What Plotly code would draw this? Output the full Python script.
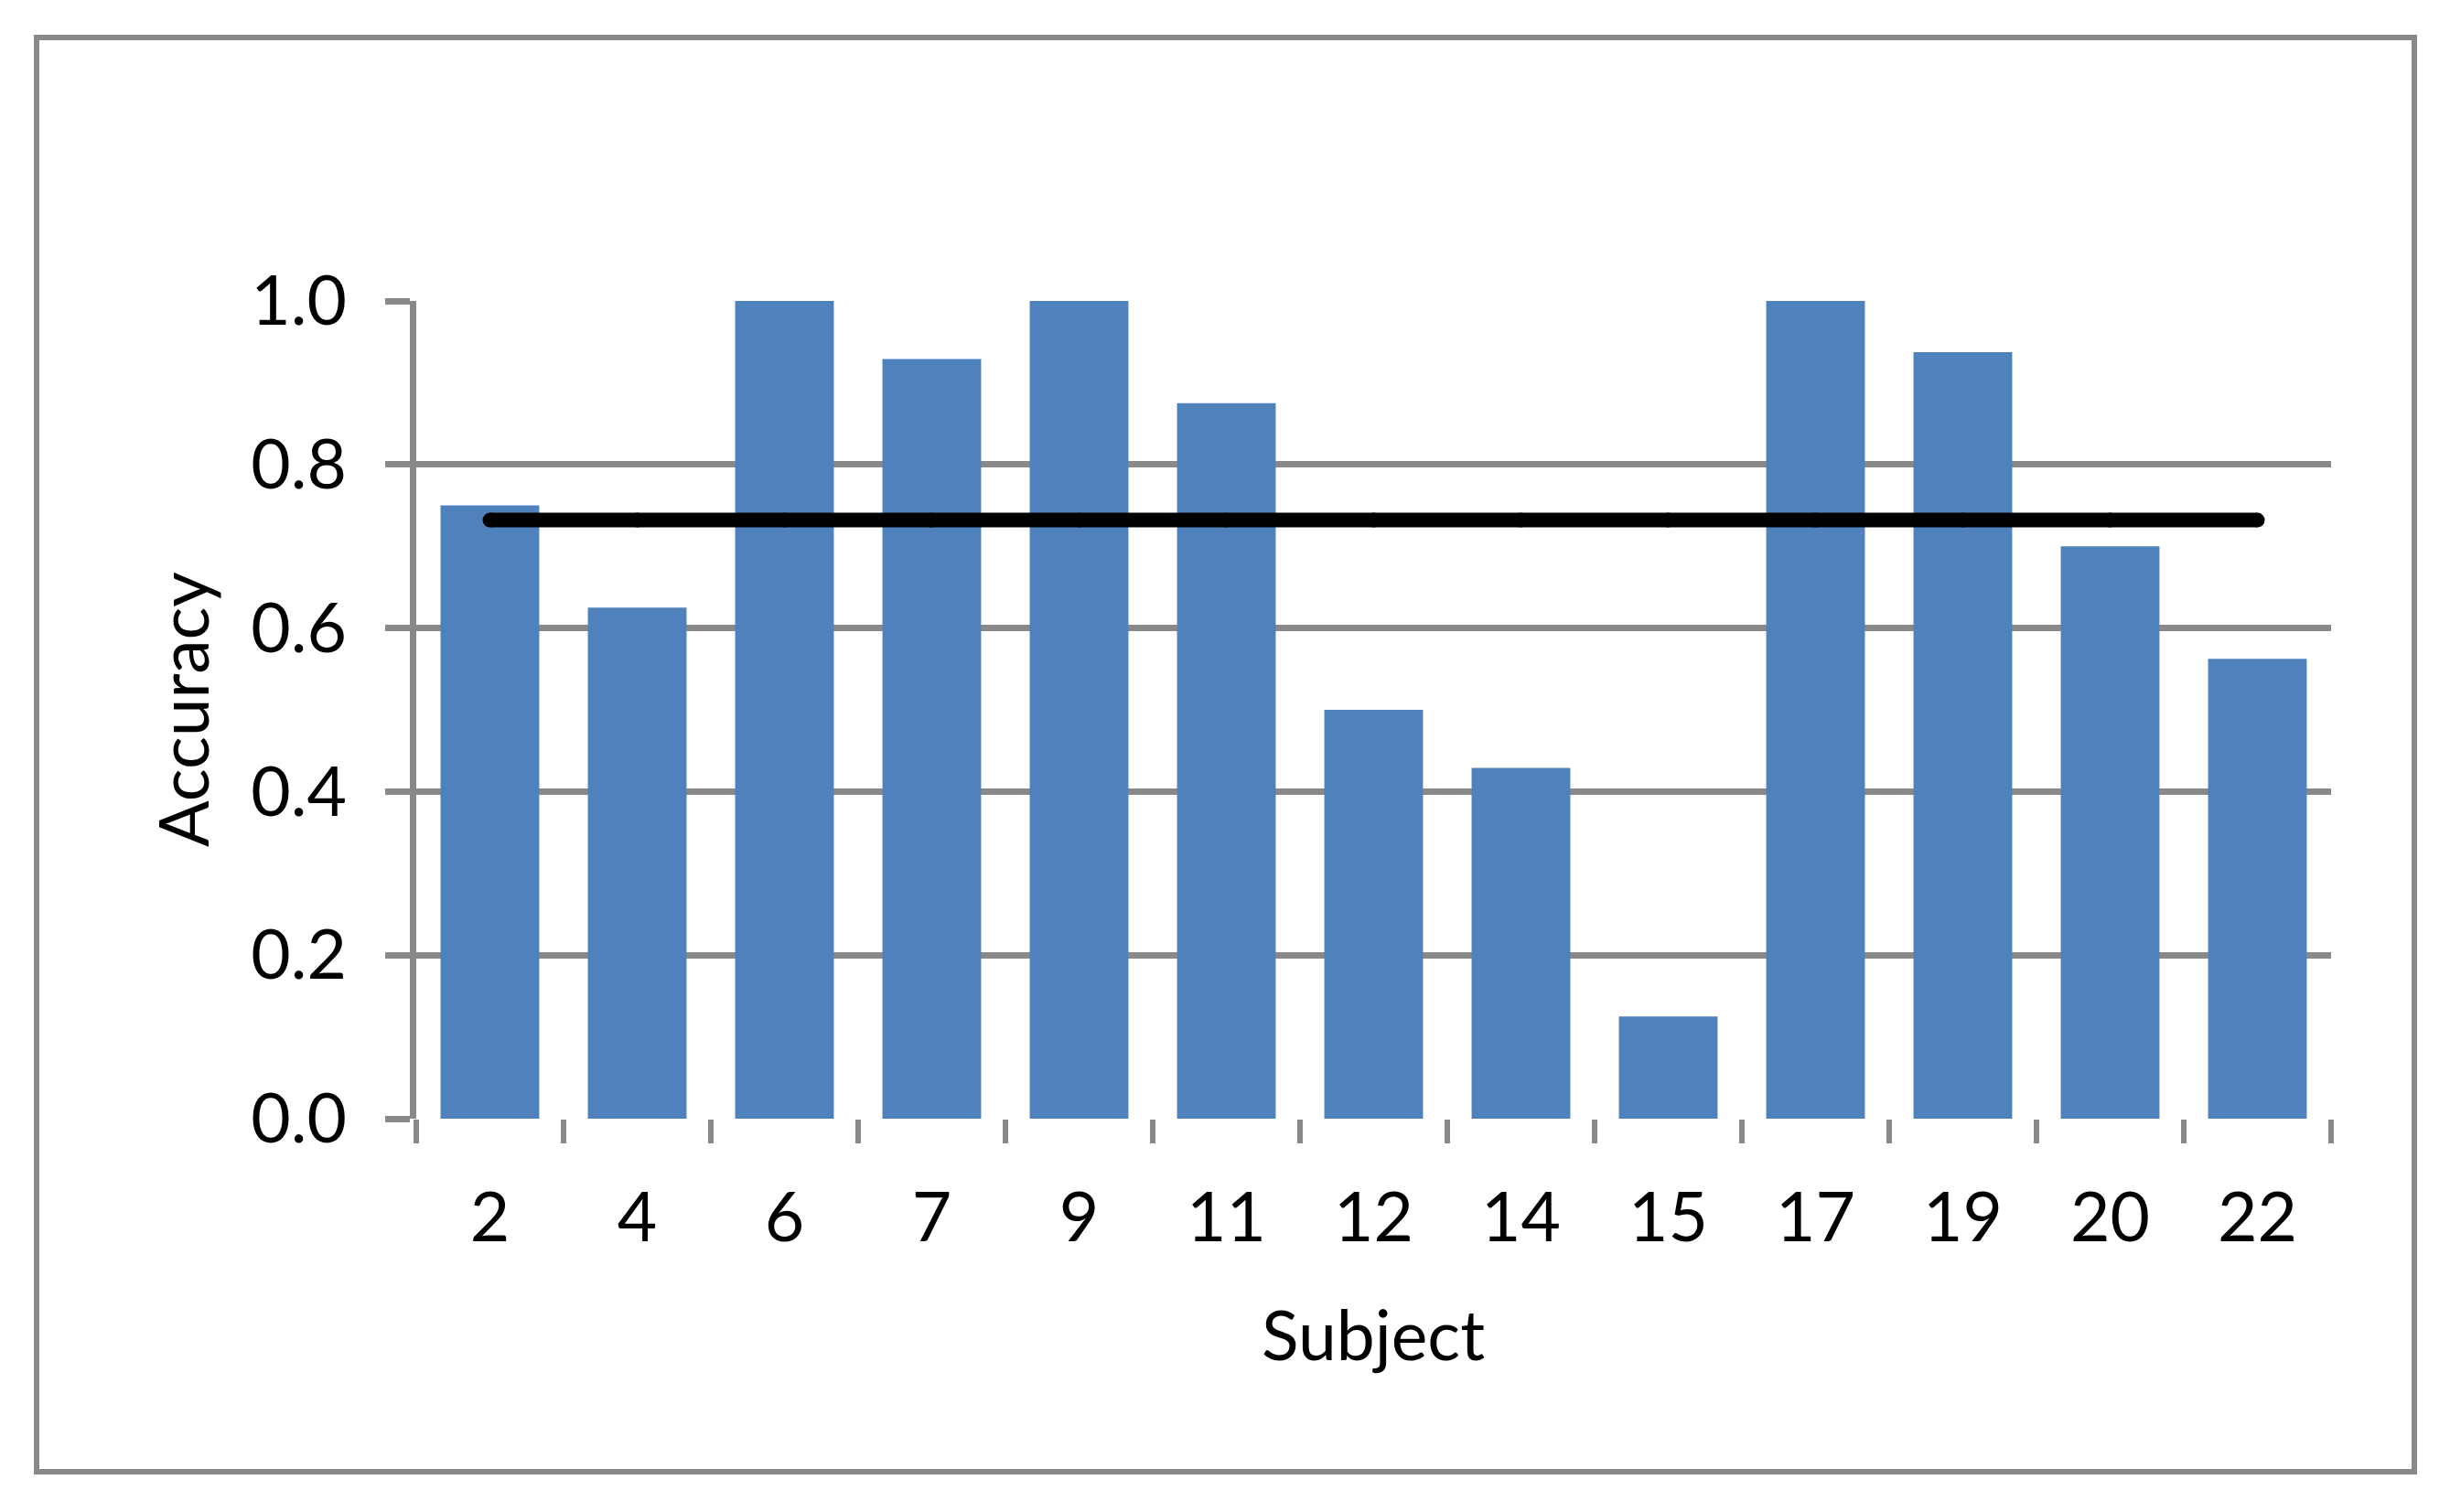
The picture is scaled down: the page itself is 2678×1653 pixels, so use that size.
import plotly.graph_objects as go

subjects = ["2", "4", "6", "7", "9", "11", "12", "14", "15", "17", "19", "20", "22"]
accuracy = [0.75, 0.625, 1.0, 0.929, 1.0, 0.875, 0.5, 0.429, 0.125, 1.0, 0.9375, 0.7, 0.5625]
mean_accuracy = [0.732] * len(subjects)

FONT = "Lato"
GREY = "#898989"
OFF = 8                      # default body margin of the html page
W, H = 2678 - 2 * OFF, 1653 - 2 * OFF
PL, PR, PT, PB = 455, 2548, 329, 1223   # plot area in page pixels
pw, ph = PR - PL, PB - PT
L, T = PL - OFF, PT - OFF
R, B = W - L - pw, H - T - ph

def px(x):
    return (x - PL) / pw

def py(y):
    return (PB - y) / ph

fig = go.Figure()
fig.add_trace(go.Bar(x=subjects, y=accuracy, marker=dict(color="#4F81BD", line=dict(width=0)),
                     showlegend=False))
fig.add_trace(go.Scatter(x=subjects, y=mean_accuracy, mode="lines+markers",
                         line=dict(color="black", width=16),
                         marker=dict(color="black", size=16, line=dict(width=0)),
                         showlegend=False))

fig.update_layout(
    width=W, height=H,
    margin=dict(l=L, r=R, t=T, b=B, autoexpand=False),
    paper_bgcolor="white", plot_bgcolor="white",
    bargap=0.33,
    font=dict(family=FONT, size=75, color="black"),
    xaxis=dict(type="category", range=[-0.5, len(subjects) - 0.5], tickson="boundaries",
               ticks="outside", ticklen=26,
               tickwidth=6, tickcolor=GREY, showgrid=False, showline=False,
               zeroline=False, ticklabelstandoff=58,
               tickfont=dict(family=FONT, size=75, color="black")),
    yaxis=dict(range=[0, 1], dtick=0.2, tickformat=".1f", showgrid=True,
               gridcolor=GREY, gridwidth=7, ticks="outside", ticklen=27,
               tickwidth=7, tickcolor=GREY, showline=True, linecolor=GREY,
               linewidth=7, zeroline=False, ticklabelstandoff=27,
               tickfont=dict(family=FONT, size=75, color="black")),
    shapes=[dict(type="rect", xref="paper", yref="paper",
                 x0=px(40), x1=px(2639), y0=py(1609), y1=py(41),
                 line=dict(color=GREY, width=6), fillcolor="rgba(0,0,0,0)", layer="below")],
    annotations=[
        dict(text="Subject", xref="paper", yref="paper", x=px(1501), y=py(1458),
             xanchor="center", yanchor="middle", showarrow=False,
             font=dict(family=FONT, size=75, color="black")),
        dict(text="Accuracy", xref="paper", yref="paper", x=px(199), y=py(776),
             xanchor="center", yanchor="middle", textangle=-90, showarrow=False,
             font=dict(family=FONT, size=75, color="black")),
    ],
)

fig.write_html("out.html")
